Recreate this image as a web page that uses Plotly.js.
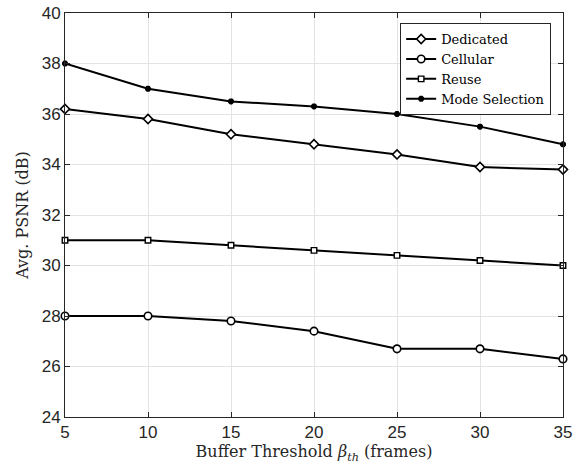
<!DOCTYPE html>
<html>
<head>
<meta charset="utf-8">
<script src="https://cdn.plot.ly/plotly-3.0.1.min.js"></script>
<style>
  html, body { margin: 0; padding: 0; background: #fff; }
  #chart { width: 584px; height: 469px; }
</style>
</head>
<body>
<div id="chart"></div>
<script>
// Buffer threshold values (frames)
const bufferThreshold = [5, 10, 15, 20, 25, 30, 35];

// Average PSNR (dB) per scheme
const dedicated     = [36.2, 35.8, 35.2, 34.8, 34.4, 33.9, 33.8];
const cellular      = [28.0, 28.0, 27.8, 27.4, 26.7, 26.7, 26.3];
const reuse         = [31.0, 31.0, 30.8, 30.6, 30.4, 30.2, 30.0];
const modeSelection = [38.0, 37.0, 36.5, 36.3, 36.0, 35.5, 34.8];

const seriesNames = ['Dedicated', 'Cellular', 'Reuse', 'Mode Selection'];

const serif = 'DejaVu Serif';
const sans = 'Liberation Sans';

function series(name, y, marker) {
  return {
    x: bufferThreshold, y: y, name: name,
    type: 'scatter', mode: 'lines+markers',
    line: { color: '#000', width: 2 },
    marker: marker,
    cliponaxis: false
  };
}

const data = [
  series(seriesNames[0], dedicated,
    { symbol: 'diamond', size: 7, color: '#fff', line: { color: '#000', width: 1.6 } }),
  series(seriesNames[1], cellular,
    { symbol: 'circle', size: 7.5, color: '#fff', line: { color: '#000', width: 1.6 } }),
  series(seriesNames[2], reuse,
    { symbol: 'square', size: 5.5, color: '#fff', line: { color: '#000', width: 1.4 } }),
  series(seriesNames[3], modeSelection,
    { symbol: 'asterisk', size: 5, color: '#000', line: { color: '#000', width: 2.2 } })
];

const axisCommon = {
  showline: true, mirror: 'ticks', linecolor: '#262626', linewidth: 1,
  ticks: 'inside', ticklen: 5, tickcolor: '#262626',
  showgrid: true, gridcolor: '#e3e3e3', gridwidth: 1,
  zeroline: false,
  tickfont: { family: sans, size: 17, color: '#262626' }
};

const layout = {
  width: 584, height: 469,
  margin: { l: 65, r: 21, t: 13, b: 52 },
  paper_bgcolor: '#fff', plot_bgcolor: '#fff',
  font: { family: serif, color: '#000' },
  showlegend: true,
  legend: {
    x: 0.673, y: 0.975, xanchor: 'left', yanchor: 'top',
    bgcolor: '#fff', bordercolor: '#262626', borderwidth: 1,
    font: { family: serif, size: 13, color: '#000' },
    tracegroupgap: 0, itemwidth: 30
  },
  xaxis: Object.assign({}, axisCommon, {
    range: [5, 35], tickvals: bufferThreshold,
    title: { text: 'Buffer Threshold <i>β</i><sub><i>th</i></sub> (frames)',
             font: { family: serif, size: 16, color: '#262626' }, standoff: 4 }
  }),
  yaxis: Object.assign({}, axisCommon, {
    range: [24, 40], dtick: 2,
    title: { text: 'Avg. PSNR (dB)',
             font: { family: serif, size: 16, color: '#262626' }, standoff: 9 }
  })
};

Plotly.newPlot('chart', data, layout, { displayModeBar: false, staticPlot: true });
</script>
</body>
</html>
